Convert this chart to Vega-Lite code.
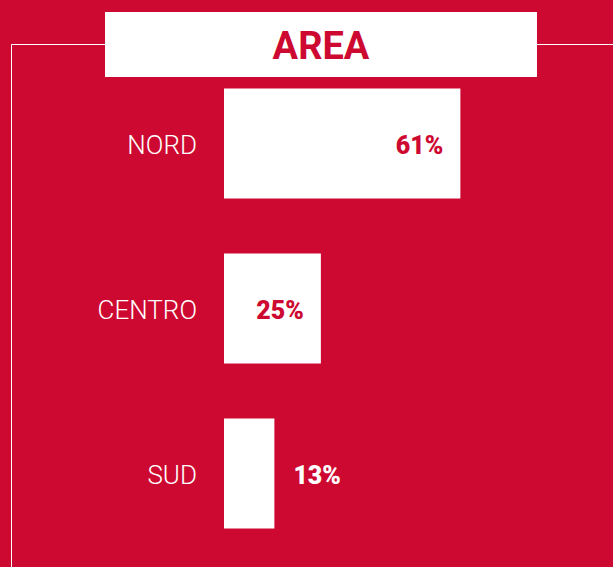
{
  "$schema": "https://vega.github.io/schema/vega-lite/v6.json",
  "autosize": {"type": "none"},
  "padding": {"left": 11, "top": 44, "right": 0, "bottom": 0},
  "width": 602,
  "height": 523,
  "background": "#CE0931",
  "config": {"view": {"stroke": null}, "font": "Roboto"},
  "data": {"values": [
    {"area": "NORD", "value": 0.61},
    {"area": "CENTRO", "value": 0.25},
    {"area": "SUD", "value": 0.13}
  ]},
  "encoding": {
    "y": {"field": "area", "type": "nominal", "sort": null,
      "scale": {"paddingInner": 0.3333, "paddingOuter": 0.2515, "align": 0.536},
      "axis": {"orient": "left", "domain": true, "domainColor": "#FFFFFF", "domainWidth": 1, "labels": false, "ticks": false, "grid": false, "title": null}}
  },
  "layer": [
    {
      "mark": {"type": "bar", "color": "#FFFFFF"},
      "encoding": {
        "x": {"field": "value", "type": "quantitative",
          "scale": {"domain": [-0.54968, 1.00387], "nice": false, "zero": false},
          "axis": {"orient": "top", "domain": true, "domainColor": "#FFFFFF", "domainWidth": 1, "labels": false, "ticks": false, "grid": false, "title": null}}
      }
    },
    {
      "mark": {"type": "text", "align": "right", "baseline": "middle", "dx": -27, "dy": 3, "fontSize": 26, "fontWeight": 300, "color": "#FFFFFF"},
      "encoding": {
        "x": {"datum": 0, "type": "quantitative"},
        "text": {"field": "area"}
      }
    },
    {
      "transform": [{"filter": "datum.value >= 0.2"}],
      "mark": {"type": "text", "align": "right", "baseline": "middle", "dx": -17, "dy": 3, "fontSize": 25, "fontWeight": 900, "color": "#CE0931"},
      "encoding": {
        "x": {"field": "value", "type": "quantitative"},
        "text": {"field": "value", "format": ".0%"}
      }
    },
    {
      "transform": [{"filter": "datum.value < 0.2"}],
      "mark": {"type": "text", "align": "left", "baseline": "middle", "dx": 19, "dy": 3, "fontSize": 25, "fontWeight": 900, "color": "#FFFFFF"},
      "encoding": {
        "x": {"field": "value", "type": "quantitative"},
        "text": {"field": "value", "format": ".0%"}
      }
    },
    {
      "data": {"values": [{"title": "AREA"}]},
      "mark": {"type": "rect", "color": "#FFFFFF"},
      "encoding": {
        "x": {"datum": -0.3071, "type": "quantitative"},
        "x2": {"datum": 0.8077},
        "y": {"value": -32},
        "y2": {"value": 33}
      }
    },
    {
      "data": {"values": [{"title": "AREA"}]},
      "mark": {"type": "text", "align": "center", "baseline": "alphabetic", "fontSize": 38, "fontWeight": "bold", "color": "#CE0931"},
      "encoding": {
        "x": {"datum": 0.2503, "type": "quantitative"},
        "y": {"value": 15.3},
        "text": {"field": "title"}
      }
    }
  ]
}
